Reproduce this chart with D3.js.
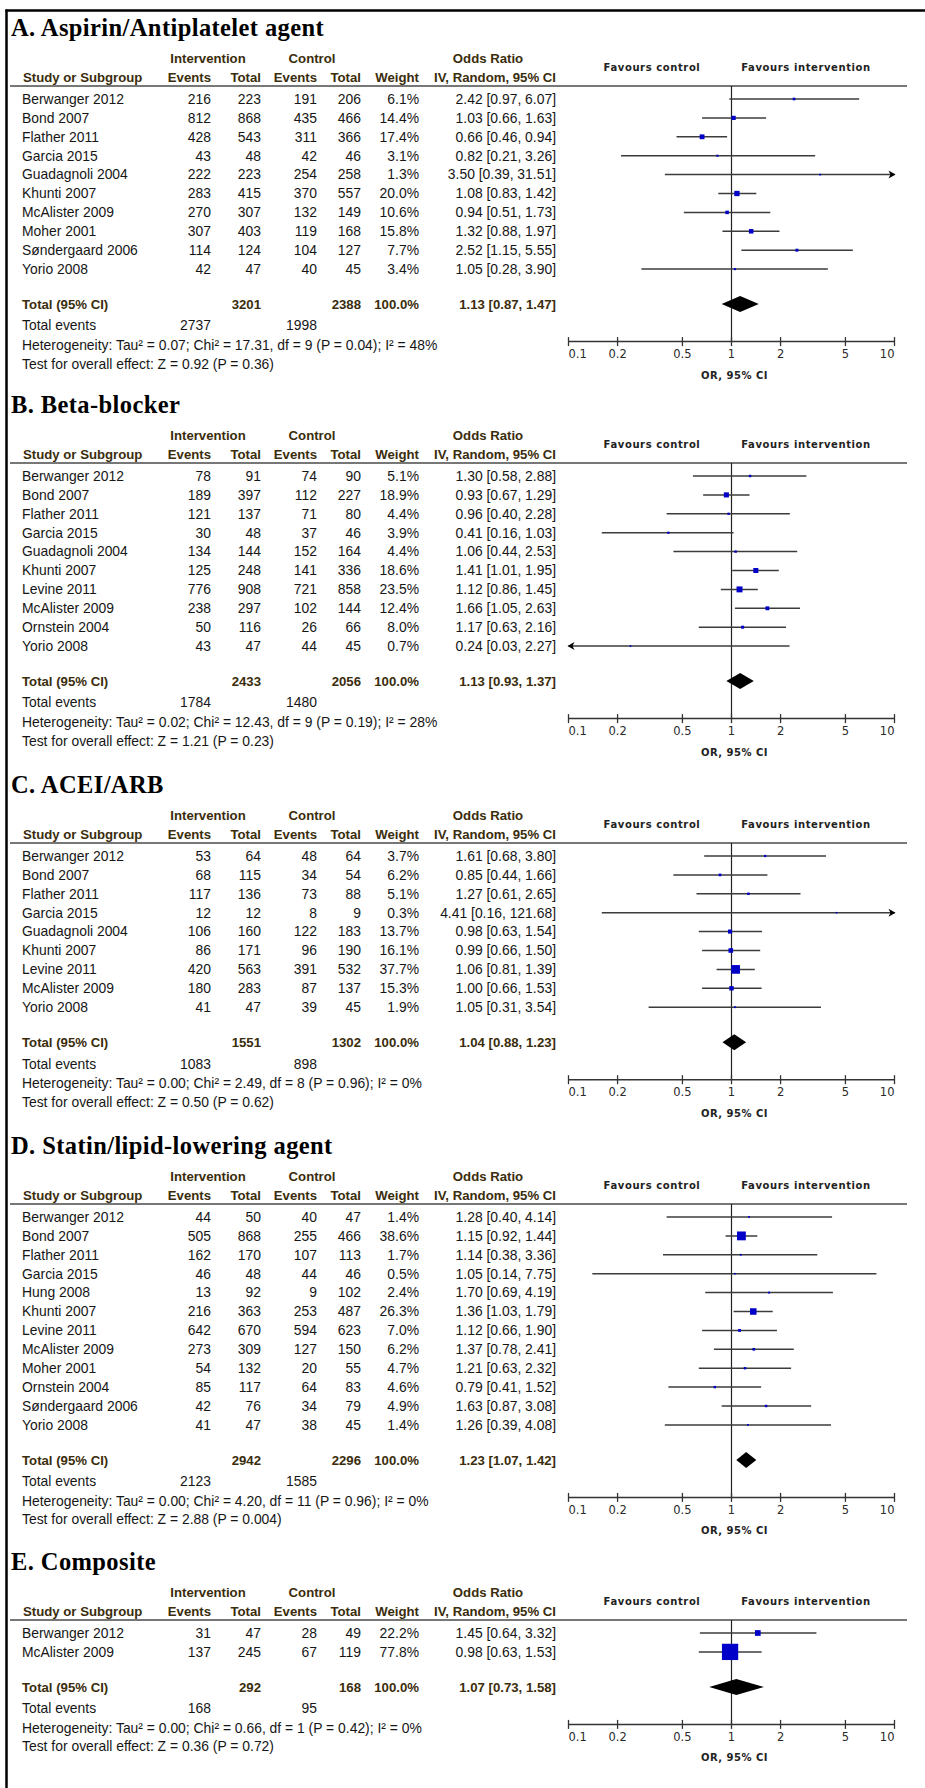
<!DOCTYPE html>
<html>
<head>
<meta charset="utf-8" />
<title>Forest plots</title>
<script src="https://d3js.org/d3.v7.min.js"></script>
<style>
  body { margin: 0; background: #fff; }
</style>
</head>
<body>
<svg id="forest"></svg>
<script>
// study, intervention events, intervention total, control events, control total, weight %, OR, lower, upper
var panelTitles = [
  "A. Aspirin/Antiplatelet agent",
  "B. Beta-blocker",
  "C. ACEI/ARB",
  "D. Statin/lipid-lowering agent",
  "E. Composite"
];

var aspirinRows = [
  ["Berwanger 2012", 216, 223, 191, 206, 6.1, 2.42, 0.97, 6.07],
  ["Bond 2007", 812, 868, 435, 466, 14.4, 1.03, 0.66, 1.63],
  ["Flather 2011", 428, 543, 311, 366, 17.4, 0.66, 0.46, 0.94],
  ["Garcia 2015", 43, 48, 42, 46, 3.1, 0.82, 0.21, 3.26],
  ["Guadagnoli 2004", 222, 223, 254, 258, 1.3, 3.50, 0.39, 31.51],
  ["Khunti 2007", 283, 415, 370, 557, 20.0, 1.08, 0.83, 1.42],
  ["McAlister 2009", 270, 307, 132, 149, 10.6, 0.94, 0.51, 1.73],
  ["Moher 2001", 307, 403, 119, 168, 15.8, 1.32, 0.88, 1.97],
  ["Søndergaard 2006", 114, 124, 104, 127, 7.7, 2.52, 1.15, 5.55],
  ["Yorio 2008", 42, 47, 40, 45, 3.4, 1.05, 0.28, 3.90]
];

var betaRows = [
  ["Berwanger 2012", 78, 91, 74, 90, 5.1, 1.30, 0.58, 2.88],
  ["Bond 2007", 189, 397, 112, 227, 18.9, 0.93, 0.67, 1.29],
  ["Flather 2011", 121, 137, 71, 80, 4.4, 0.96, 0.40, 2.28],
  ["Garcia 2015", 30, 48, 37, 46, 3.9, 0.41, 0.16, 1.03],
  ["Guadagnoli 2004", 134, 144, 152, 164, 4.4, 1.06, 0.44, 2.53],
  ["Khunti 2007", 125, 248, 141, 336, 18.6, 1.41, 1.01, 1.95],
  ["Levine 2011", 776, 908, 721, 858, 23.5, 1.12, 0.86, 1.45],
  ["McAlister 2009", 238, 297, 102, 144, 12.4, 1.66, 1.05, 2.63],
  ["Ornstein 2004", 50, 116, 26, 66, 8.0, 1.17, 0.63, 2.16],
  ["Yorio 2008", 43, 47, 44, 45, 0.7, 0.24, 0.03, 2.27]
];

var aceiRows = [
  ["Berwanger 2012", 53, 64, 48, 64, 3.7, 1.61, 0.68, 3.80],
  ["Bond 2007", 68, 115, 34, 54, 6.2, 0.85, 0.44, 1.66],
  ["Flather 2011", 117, 136, 73, 88, 5.1, 1.27, 0.61, 2.65],
  ["Garcia 2015", 12, 12, 8, 9, 0.3, 4.41, 0.16, 121.68],
  ["Guadagnoli 2004", 106, 160, 122, 183, 13.7, 0.98, 0.63, 1.54],
  ["Khunti 2007", 86, 171, 96, 190, 16.1, 0.99, 0.66, 1.50],
  ["Levine 2011", 420, 563, 391, 532, 37.7, 1.06, 0.81, 1.39],
  ["McAlister 2009", 180, 283, 87, 137, 15.3, 1.00, 0.66, 1.53],
  ["Yorio 2008", 41, 47, 39, 45, 1.9, 1.05, 0.31, 3.54]
];

var statinRows = [
  ["Berwanger 2012", 44, 50, 40, 47, 1.4, 1.28, 0.40, 4.14],
  ["Bond 2007", 505, 868, 255, 466, 38.6, 1.15, 0.92, 1.44],
  ["Flather 2011", 162, 170, 107, 113, 1.7, 1.14, 0.38, 3.36],
  ["Garcia 2015", 46, 48, 44, 46, 0.5, 1.05, 0.14, 7.75],
  ["Hung 2008", 13, 92, 9, 102, 2.4, 1.70, 0.69, 4.19],
  ["Khunti 2007", 216, 363, 253, 487, 26.3, 1.36, 1.03, 1.79],
  ["Levine 2011", 642, 670, 594, 623, 7.0, 1.12, 0.66, 1.90],
  ["McAlister 2009", 273, 309, 127, 150, 6.2, 1.37, 0.78, 2.41],
  ["Moher 2001", 54, 132, 20, 55, 4.7, 1.21, 0.63, 2.32],
  ["Ornstein 2004", 85, 117, 64, 83, 4.6, 0.79, 0.41, 1.52],
  ["Søndergaard 2006", 42, 76, 34, 79, 4.9, 1.63, 0.87, 3.08],
  ["Yorio 2008", 41, 47, 38, 45, 1.4, 1.26, 0.39, 4.08]
];

var compositeRows = [
  ["Berwanger 2012", 31, 47, 28, 49, 22.2, 1.45, 0.64, 3.32],
  ["McAlister 2009", 137, 245, 67, 119, 77.8, 0.98, 0.63, 1.53]
];

// intervention total, control total, OR, lower, upper
var totalRows = [
  [3201, 2388, 1.13, 0.87, 1.47],
  [2433, 2056, 1.13, 0.93, 1.37],
  [1551, 1302, 1.04, 0.88, 1.23],
  [2942, 2296, 1.23, 1.07, 1.42],
  [292, 168, 1.07, 0.73, 1.58]
];

var totalEvents = [[2737, 1998], [1784, 1480], [1083, 898], [2123, 1585], [168, 95]];

var heterogeneity = [
  "Heterogeneity: Tau² = 0.07; Chi² = 17.31, df = 9 (P = 0.04); I² = 48%",
  "Heterogeneity: Tau² = 0.02; Chi² = 12.43, df = 9 (P = 0.19); I² = 28%",
  "Heterogeneity: Tau² = 0.00; Chi² = 2.49, df = 8 (P = 0.96); I² = 0%",
  "Heterogeneity: Tau² = 0.00; Chi² = 4.20, df = 11 (P = 0.96); I² = 0%",
  "Heterogeneity: Tau² = 0.00; Chi² = 0.66, df = 1 (P = 0.42); I² = 0%"
];

var overallEffect = [
  "Test for overall effect: Z = 0.92 (P = 0.36)",
  "Test for overall effect: Z = 1.21 (P = 0.23)",
  "Test for overall effect: Z = 0.50 (P = 0.62)",
  "Test for overall effect: Z = 2.88 (P = 0.004)",
  "Test for overall effect: Z = 0.36 (P = 0.72)"
];

var axisTicks = [0.1, 0.2, 0.5, 1, 2, 5, 10];

var allRows = [aspirinRows, betaRows, aceiRows, statinRows, compositeRows];

var width = 925, height = 1788;
var panelTop = [86, 463, 843, 1204, 1620]; // header rule of each panel
var rowStep = 18.9;
var col = {name: 22, intEv: 211, intTot: 261, ctlEv: 317, ctlTot: 361, weight: 419, or: 556};
var headColor = "#3b2d0c";
var textColor = "#161616";
var sansFont = "'Liberation Sans', Arial, sans-serif";
var serifFont = "'Liberation Serif', 'Times New Roman', serif";
var smallFont = "'DejaVu Sans', Verdana, sans-serif";

var svg = d3.select("#forest")
    .attr("width", width)
    .attr("height", height)
    .style("font-family", sansFont);

var x = d3.scaleLog().domain([0.1, 10]).range([568.5, 894.5]);
var xMin = 0.1, xMax = 10;

// frame
svg.append("line").attr("x1", 6.5).attr("x2", 6.5).attr("y1", 9.5).attr("y2", height)
    .attr("stroke", "#000").attr("stroke-width", 2.5);
svg.append("line").attr("x1", 5.5).attr("x2", width).attr("y1", 10.5).attr("y2", 10.5)
    .attr("stroke", "#000").attr("stroke-width", 2.5);

function fmtOR(o, l, h) {
    return o.toFixed(2) + " [" + l.toFixed(2) + ", " + h.toFixed(2) + "]";
}

function txt(g, xPos, y, s, anchor, bold, color) {
    return g.append("text")
        .attr("x", xPos).attr("y", y)
        .attr("text-anchor", anchor || "start")
        .attr("font-size", bold ? 13.2 : 13.9)
        .attr("font-weight", bold ? "bold" : "normal")
        .attr("fill", color || textColor)
        .text(s);
}

allRows.forEach(function(rows, p) {
    var hl = panelTop[p];
    var g = svg.append("g").attr("class", "panel");

    // title
    g.append("text")
        .attr("x", 11).attr("y", hl - 50)
        .style("font-family", serifFont)
        .attr("font-size", 24.5)
        .attr("font-weight", "bold")
        .attr("letter-spacing", 0.4)
        .attr("fill", "#000")
        .text(panelTitles[p]);

    // column headers
    var h1 = hl - 23.4, h2 = hl - 4.4;
    txt(g, 208, h1, "Intervention", "middle", true, headColor);
    txt(g, 312, h1, "Control", "middle", true, headColor);
    txt(g, 488, h1, "Odds Ratio", "middle", true, headColor);
    txt(g, 23, h2, "Study or Subgroup", "start", true, headColor);
    txt(g, col.intEv, h2, "Events", "end", true, headColor);
    txt(g, col.intTot, h2, "Total", "end", true, headColor);
    txt(g, col.ctlEv, h2, "Events", "end", true, headColor);
    txt(g, col.ctlTot, h2, "Total", "end", true, headColor);
    txt(g, col.weight, h2, "Weight", "end", true, headColor);
    txt(g, col.or, h2, "IV, Random, 95% CI", "end", true, headColor);

    [["Favours control", 652], ["Favours intervention", 806]].forEach(function(f) {
        g.append("text")
            .attr("x", f[1]).attr("y", hl - 15.4)
            .attr("text-anchor", "middle")
            .style("font-family", smallFont)
            .attr("font-size", 10)
            .attr("font-weight", "bold")
            .attr("letter-spacing", 0.6)
            .attr("fill", "#222")
            .text(f[0]);
    });

    g.append("line")
        .attr("x1", 10).attr("x2", 907).attr("y1", hl).attr("y2", hl)
        .attr("stroke", "#4a4a4a").attr("stroke-width", 1.5);

    var rowY = function(i) { return hl + 13 + i * rowStep; };
    var lastY = rowY(rows.length - 1);
    var totalY = lastY + 35;
    var eventsY = totalY + 21.5;
    var hetY = eventsY + 19.5;
    var testY = hetY + 18.7;
    var axisY = lastY + 72.5;

    // null line
    g.append("line")
        .attr("x1", x(1)).attr("x2", x(1)).attr("y1", hl).attr("y2", axisY)
        .attr("stroke", "#222").attr("stroke-width", 1.2);

    // study rows
    rows.forEach(function(r, i) {
        var cy = rowY(i), ty = cy + 4.8;
        txt(g, col.name, ty, r[0], "start");
        txt(g, col.intEv, ty, r[1], "end");
        txt(g, col.intTot, ty, r[2], "end");
        txt(g, col.ctlEv, ty, r[3], "end");
        txt(g, col.ctlTot, ty, r[4], "end");
        txt(g, col.weight, ty, r[5].toFixed(1) + "%", "end");
        txt(g, col.or, ty, fmtOR(r[6], r[7], r[8]), "end");

        var lo = Math.max(r[7], xMin), hi = Math.min(r[8], xMax);
        g.append("line")
            .attr("x1", x(lo)).attr("x2", x(hi)).attr("y1", cy).attr("y2", cy)
            .attr("stroke", "#3c3c3c").attr("stroke-width", 1.5);
        if (r[8] > xMax) {
            var ax = x(xMax) + 1;
            g.append("path")
                .attr("d", "M" + ax + "," + cy + "L" + (ax - 7) + "," + (cy - 4) + "L" + (ax - 5) + "," + cy + "L" + (ax - 7) + "," + (cy + 4) + "Z")
                .attr("fill", "#000");
        }
        if (r[7] < xMin) {
            var bx = x(xMin) - 1;
            g.append("path")
                .attr("d", "M" + bx + "," + cy + "L" + (bx + 7) + "," + (cy - 4) + "L" + (bx + 5) + "," + cy + "L" + (bx + 7) + "," + (cy + 4) + "Z")
                .attr("fill", "#000");
        }
        var s = 1.5 + 0.19 * r[5];
        g.append("rect")
            .attr("x", x(r[6]) - s / 2).attr("y", cy - s / 2)
            .attr("width", s).attr("height", s)
            .attr("fill", "#0000c8");
    });

    // total row
    var t = totalRows[p], tb = totalY + 4.6;
    txt(g, col.name, tb, "Total (95% CI)", "start", true, headColor);
    txt(g, col.intTot, tb, t[0], "end", true, headColor);
    txt(g, col.ctlTot, tb, t[1], "end", true, headColor);
    txt(g, col.weight, tb, "100.0%", "end", true, headColor);
    txt(g, col.or, tb, fmtOR(t[2], t[3], t[4]), "end", true, headColor);

    g.append("path")
        .attr("d", "M" + x(t[3]) + "," + totalY +
                   "L" + x(t[2]) + "," + (totalY - 8) +
                   "L" + x(t[4]) + "," + totalY +
                   "L" + x(t[2]) + "," + (totalY + 8) + "Z")
        .attr("fill", "#000");

    txt(g, col.name, eventsY + 4.8, "Total events", "start");
    txt(g, col.intEv, eventsY + 4.8, totalEvents[p][0], "end");
    txt(g, col.ctlEv, eventsY + 4.8, totalEvents[p][1], "end");
    txt(g, col.name, hetY + 4.8, heterogeneity[p], "start");
    txt(g, col.name, testY + 4.8, overallEffect[p], "start");

    // axis
    g.append("line")
        .attr("x1", x(xMin)).attr("x2", x(xMax)).attr("y1", axisY).attr("y2", axisY)
        .attr("stroke", "#333").attr("stroke-width", 1.5);
    axisTicks.forEach(function(v, i) {
        g.append("line")
            .attr("x1", x(v)).attr("x2", x(v)).attr("y1", axisY - 4.5).attr("y2", axisY + 4.5)
            .attr("stroke", "#333").attr("stroke-width", 1.3);
        var anchor = i === 0 ? "start" : (i === axisTicks.length - 1 ? "end" : "middle");
        g.append("text")
            .attr("x", x(v)).attr("y", axisY + 16.5)
            .attr("text-anchor", anchor)
            .style("font-family", smallFont)
            .attr("font-size", 11.5)
            .attr("fill", "#2a2a2a")
            .text(v);
    });
    g.append("text")
        .attr("x", x(1) + 3).attr("y", axisY + 37)
        .attr("text-anchor", "middle")
        .style("font-family", smallFont)
        .attr("font-size", 10)
        .attr("font-weight", "bold")
        .attr("letter-spacing", 0.5)
        .attr("fill", "#222")
        .text("OR, 95% CI");
});
</script>
</body>
</html>
